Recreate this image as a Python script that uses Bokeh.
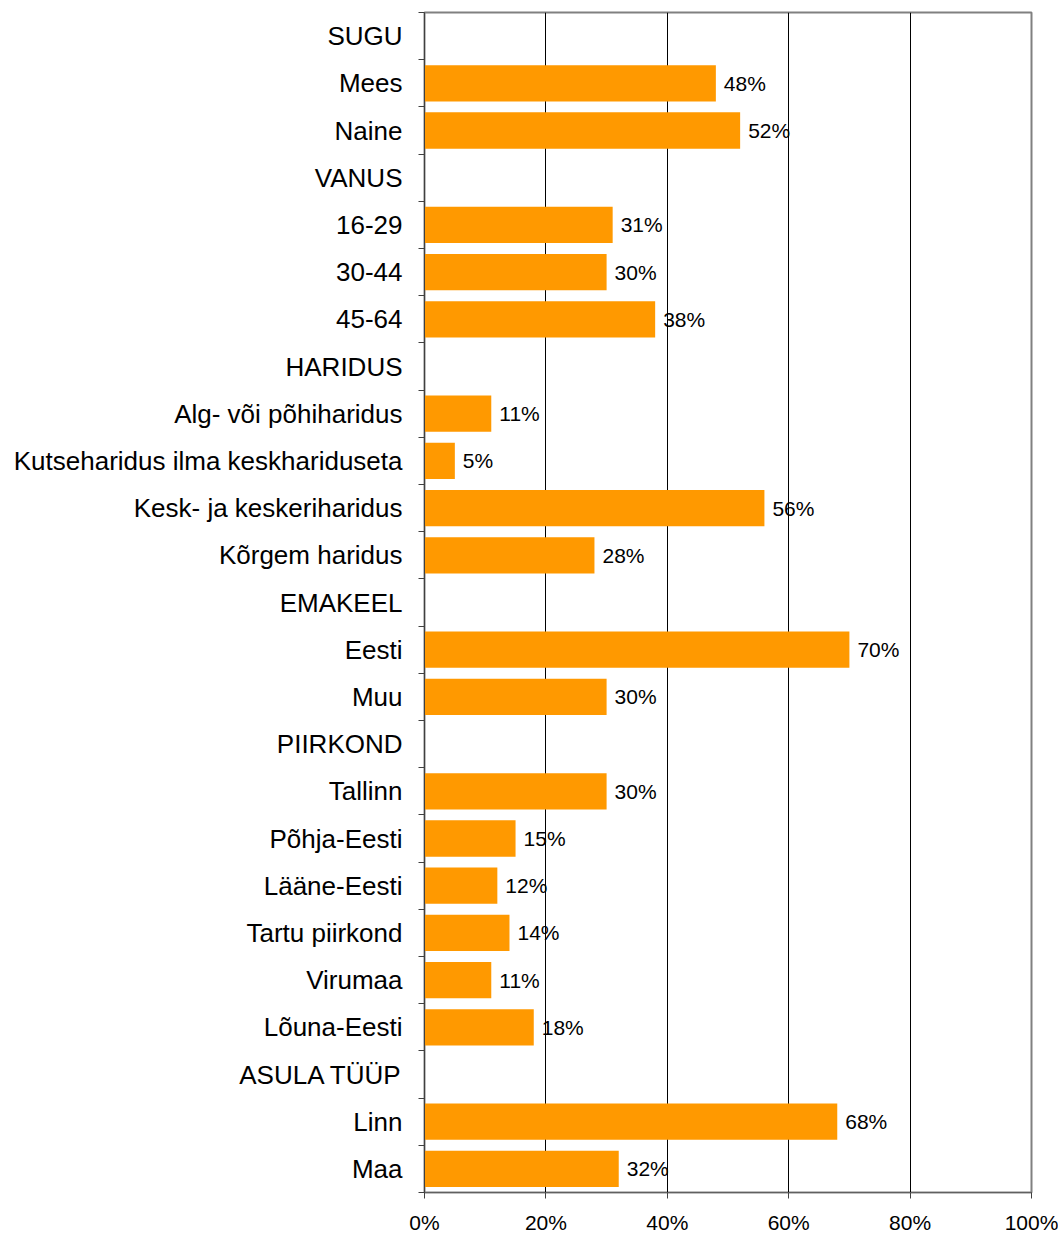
from bokeh.plotting import figure
from bokeh.models import Range1d, FixedTicker, NumeralTickFormatter, ColumnDataSource
from bokeh.core.properties import value
from bokeh.embed import file_html
from bokeh.resources import INLINE

categories = ["SUGU", "Mees", "Naine", "VANUS", "16-29", "30-44", "45-64",
              "HARIDUS", "Alg- või põhiharidus", "Kutseharidus ilma keskhariduseta",
              "Kesk- ja keskeriharidus", "Kõrgem haridus", "EMAKEEL", "Eesti", "Muu",
              "PIIRKOND", "Tallinn", "Põhja-Eesti", "Lääne-Eesti", "Tartu piirkond",
              "Virumaa", "Lõuna-Eesti", "ASULA TÜÜP", "Linn", "Maa"]
values = [None, 48, 52, None, 31, 30, 38, None, 11, 5, 56, 28, None, 70, 30,
          None, 30, 15, 12, 14, 11, 18, None, 68, 32]
x_ticks = [0, 0.2, 0.4, 0.6, 0.8, 1.0]

n = len(categories)
centers = [i + 0.5 for i in range(n)]
bar_y = [c for c, v in zip(centers, values) if v is not None]
bar_v = [v / 100 for v in values if v is not None]
bar_lbl = [f"{v}%" for v in values if v is not None]
src = ColumnDataSource(dict(y=bar_y, x=bar_v, lbl=bar_lbl))

p = figure(width=1058, height=1236, output_backend="svg", toolbar_location=None,
           x_range=Range1d(0, 1), y_range=Range1d(n, 0),
           min_border_left=424, min_border_top=12, min_border_right=27, min_border_bottom=44)

p.hbar(y="y", right="x", left=0, height=0.77, source=src,
       fill_color="#FF9900", line_color=None)
p.text(x="x", y="y", text="lbl", source=src, x_offset=8,
       text_baseline="middle", text_align="left",
       text_font=value("Liberation Sans"), text_font_size="21px", text_color="black")

p.outline_line_color = "#808080"
p.outline_line_width = 2
p.ygrid.grid_line_color = None
p.xgrid.ticker = FixedTicker(ticks=[0.2, 0.4, 0.6, 0.8])
p.xgrid.grid_line_color = "black"
p.xgrid.grid_line_width = 1

# y axis
p.yaxis.ticker = FixedTicker(ticks=centers, minor_ticks=list(range(n + 1)))
p.yaxis.major_label_overrides = {c: lab for c, lab in zip(centers, categories)}
p.yaxis.major_tick_out = 0
p.yaxis.major_tick_in = 0
p.yaxis.minor_tick_out = 6
p.yaxis.minor_tick_in = 0
p.yaxis.minor_tick_line_color = "#404040"
p.yaxis.axis_line_color = "#404040"
p.yaxis.major_label_standoff = 16
p.yaxis.major_label_text_font = "Liberation Sans"
p.yaxis.major_label_text_font_size = "26px"
p.yaxis.major_label_text_color = "black"

# x axis
p.xaxis.ticker = FixedTicker(ticks=x_ticks)
p.xaxis.formatter = NumeralTickFormatter(format="0%")
p.xaxis.major_tick_out = 6
p.xaxis.major_tick_in = 0
p.xaxis.minor_tick_line_color = None
p.xaxis.axis_line_color = "#606060"
p.xaxis.major_tick_line_color = "#404040"
p.xaxis.major_label_standoff = 12
p.xaxis.major_label_text_font = "Liberation Sans"
p.xaxis.major_label_text_font_size = "21px"
p.xaxis.major_label_text_color = "black"

open("out.html", "w").write(file_html(p, INLINE))
